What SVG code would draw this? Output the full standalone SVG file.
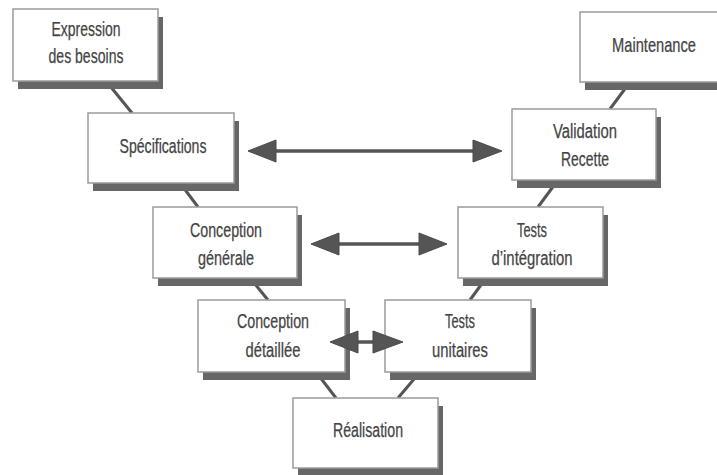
<svg xmlns="http://www.w3.org/2000/svg" width="717" height="475" viewBox="0 0 717 475">
  <style>
    .shadow { fill: #676767; }
    .box { fill: #ffffff; stroke: #9a9a9a; stroke-width: 1.5; }
    .label { font-family: "Liberation Sans", Arial, sans-serif; font-size: 20px; fill: #444444; stroke: #444444; stroke-width: 0.25; text-anchor: middle; }
    .link { stroke: #555555; stroke-width: 3; fill: none; }
    .shaft { stroke: #555555; stroke-width: 3.5; fill: none; }
    .head { fill: #555555; stroke: #4a4a4a; stroke-width: 1; stroke-linejoin: round; }
  </style>
  <rect width="717" height="475" fill="#ffffff"/>

  <!-- links between the phases of the V -->
  <g id="connectors">
    <line class="link" x1="106" y1="81" x2="132" y2="113"/>
    <line class="link" x1="180" y1="183" x2="198" y2="207"/>
    <line class="link" x1="250" y1="278" x2="268" y2="300"/>
    <line class="link" x1="316" y1="372" x2="336" y2="398"/>
    <line class="link" x1="420" y1="372" x2="398" y2="398"/>
    <line class="link" x1="486" y1="278" x2="470" y2="300"/>
    <line class="link" x1="558" y1="180" x2="538" y2="207"/>
    <line class="link" x1="630" y1="82" x2="610" y2="109"/>
  </g>

  <g id="expression">
    <rect class="shadow" x="18" y="17" width="145" height="72"/>
    <rect class="box" x="13" y="9" width="145" height="72"/>
    <text class="label" x="86" y="36" textLength="69" lengthAdjust="spacingAndGlyphs">Expression</text>
    <text class="label" x="86" y="63" textLength="75" lengthAdjust="spacingAndGlyphs">des besoins</text>
  </g>

  <g id="specifications">
    <rect class="shadow" x="93" y="121" width="146" height="70"/>
    <rect class="box" x="88" y="113" width="146" height="70"/>
    <text class="label" x="163" y="153" textLength="87" lengthAdjust="spacingAndGlyphs">Spécifications</text>
  </g>

  <g id="conception-generale">
    <rect class="shadow" x="158" y="215" width="144" height="71"/>
    <rect class="box" x="153" y="207" width="144" height="71"/>
    <text class="label" x="226" y="237" textLength="72" lengthAdjust="spacingAndGlyphs">Conception</text>
    <text class="label" x="226" y="265" textLength="56" lengthAdjust="spacingAndGlyphs">générale</text>
  </g>

  <g id="conception-detaillee">
    <rect class="shadow" x="203" y="308" width="147" height="72"/>
    <rect class="box" x="198" y="300" width="147" height="72"/>
    <text class="label" x="273" y="328" textLength="72" lengthAdjust="spacingAndGlyphs">Conception</text>
    <text class="label" x="273" y="357" textLength="55" lengthAdjust="spacingAndGlyphs">détaillée</text>
  </g>

  <g id="realisation">
    <rect class="shadow" x="298" y="406" width="145" height="70"/>
    <rect class="box" x="293" y="398" width="145" height="70"/>
    <text class="label" x="368" y="437" textLength="70" lengthAdjust="spacingAndGlyphs">Réalisation</text>
  </g>

  <g id="tests-unitaires">
    <rect class="shadow" x="390" y="308" width="146" height="72"/>
    <rect class="box" x="385" y="300" width="146" height="72"/>
    <text class="label" x="460" y="328" textLength="30" lengthAdjust="spacingAndGlyphs">Tests</text>
    <text class="label" x="460" y="357" textLength="56" lengthAdjust="spacingAndGlyphs">unitaires</text>
  </g>

  <g id="tests-integration">
    <rect class="shadow" x="463" y="215" width="145" height="71"/>
    <rect class="box" x="458" y="207" width="145" height="71"/>
    <text class="label" x="532" y="237" textLength="30" lengthAdjust="spacingAndGlyphs">Tests</text>
    <text class="label" x="532" y="265" textLength="81" lengthAdjust="spacingAndGlyphs">d’intégration</text>
  </g>

  <g id="validation">
    <rect class="shadow" x="517" y="117" width="144" height="71"/>
    <rect class="box" x="512" y="109" width="144" height="71"/>
    <text class="label" x="585" y="138" textLength="64" lengthAdjust="spacingAndGlyphs">Validation</text>
    <text class="label" x="585" y="166" textLength="48" lengthAdjust="spacingAndGlyphs">Recette</text>
  </g>

  <!-- this box runs past the right edge of the canvas -->
  <g id="maintenance">
    <rect class="shadow" x="585" y="20" width="145" height="70"/>
    <rect class="box" x="580" y="12" width="145" height="70"/>
    <text class="label" transform="translate(654 52) scale(0.734 1)">Maintenance</text>
  </g>

  <!-- double-headed correspondence arrows -->
  <g id="arrows">
    <line class="shaft" x1="274" y1="151" x2="475" y2="151"/>
    <polygon class="head" points="248,151 276,140 276,162"/>
    <polygon class="head" points="502,151 473,140 473,162"/>

    <line class="shaft" x1="337" y1="244" x2="421" y2="244"/>
    <polygon class="head" points="311,244 339,233 339,255"/>
    <polygon class="head" points="447,244 419,233 419,255"/>

    <line class="shaft" x1="356" y1="342" x2="375" y2="342"/>
    <polygon class="head" points="330,342 358,331 358,353"/>
    <polygon class="head" points="403,342 373,331 373,353"/>
  </g>
</svg>
